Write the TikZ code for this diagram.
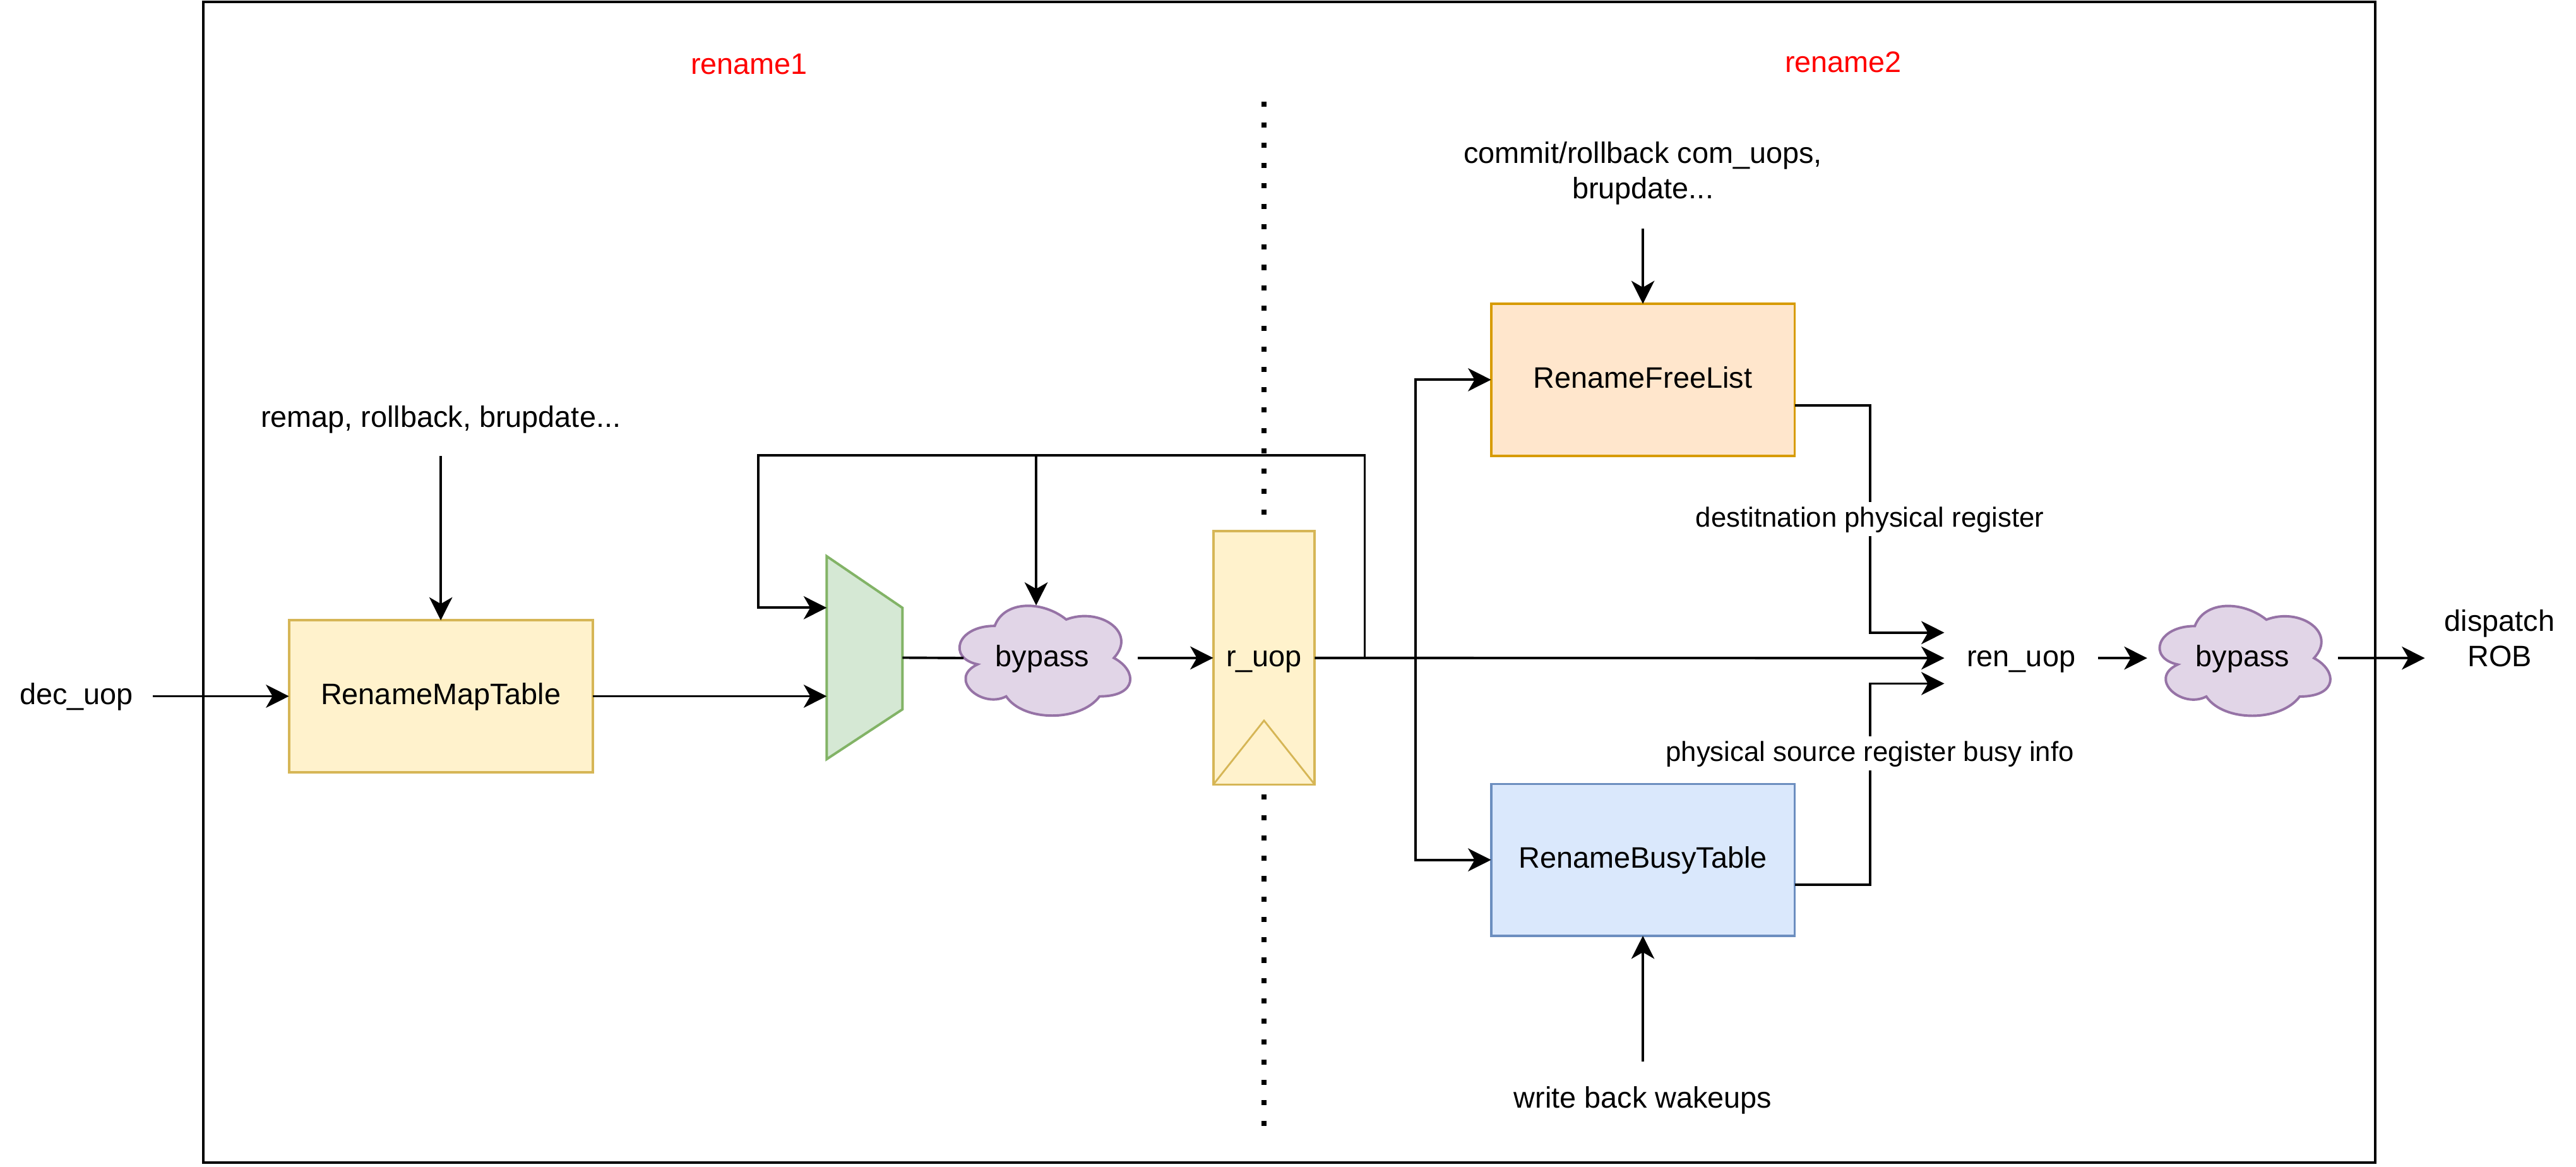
\documentclass[tikz,border=0pt]{standalone}
\usepackage{fontspec}
\setmainfont{Liberation Sans}
\usetikzlibrary{calc}
\usetikzlibrary{positioning}
\usetikzlibrary{arrows.meta}
\definecolor{yelfill}{HTML}{FFF2CC}
\definecolor{yeldraw}{HTML}{D6B656}
\definecolor{orgfill}{HTML}{FFE6CC}
\definecolor{orgdraw}{HTML}{D79B00}
\definecolor{bluefill}{HTML}{DAE8FC}
\definecolor{bluedraw}{HTML}{6C8EBF}
\definecolor{grnfill}{HTML}{D5E8D4}
\definecolor{grndraw}{HTML}{82B366}
\definecolor{purfill}{HTML}{E1D5E7}
\definecolor{purdraw}{HTML}{9673A6}
\providecommand\cloudpath[1]{%
    \path[draw = purdraw, fill = purfill, line width = 1.5pt, x = 116pt, y = -78pt, #1]
        (-0.25,-0.25) .. controls (-0.45,-0.25) and (-0.5,0) .. (-0.34,0.05)
        .. controls (-0.5,0.16) and (-0.32,0.4) .. (-0.19,0.3)
        .. controls (-0.1,0.5) and (0.2,0.5) .. (0.3,0.3)
        .. controls (0.5,0.3) and (0.5,0.1) .. (0.375,0)
        .. controls (0.5,-0.2) and (0.3,-0.4) .. (0.125,-0.3)
        .. controls (0,-0.45) and (-0.2,-0.45) .. (-0.25,-0.25) -- cycle;%
}

\begin{document}
\begin{tikzpicture}[x = 1pt, y = -1pt, on grid,
        line width = 1.5pt,
        font = \fontsize{18}{21.6}\selectfont,
        conn/.style = {draw, -{Stealth[length=14pt, width=14pt, inset=4pt]}},
        txt/.style = {inner sep = 0pt, outer sep = 0pt, align = center,
            text height = 13pt, text depth = 2.8pt},
        lbl/.style = {fill = white, inner xsep = 1pt, inner ysep = 3pt,
            text height = 12.1pt, text depth = 2.6pt,
            font = \fontsize{16.8}{20.2}\selectfont},
        tabbox/.style = {txt, draw, minimum width = 184.8, minimum height = 92.4},
        regbox/.style = {txt, draw = yeldraw, fill = yelfill,
            minimum width = 61.8, minimum height = 154.2},
        bubble/.style = {txt, minimum width = 116, minimum height = 78},
        ]
    \useasboundingbox (0,0) rectangle (1568,710.2);

    \draw[line width = 1.6pt] (123.6,1) rectangle (1445.7,707.6);

    \node (rn1) at (456,40) [txt, text = red] {rename1};
    \node (rn2) at (1122,39) [txt, text = red] {rename2};

    \draw[line width = 3.1pt, dash pattern = on 3.1pt off 9.3pt] (769.4,62) -- (769.4,692);

    % rename1
    \node (maptab) at (268.3,423.7) [tabbox, draw = yeldraw, fill = yelfill] {RenameMapTable};
    \node (decin) at (46.5,423.7) [txt, minimum width = 93] {dec\_uop};
    \node (remapin) [txt, minimum height = 45.6, above = 169pt of maptab] {remap, rollback, brupdate...};

    \node (mux) at (526.25,400.25) [inner sep = 0pt, outer sep = 0pt,
        minimum width = 46.1, minimum height = 123.5] {};
    \draw[draw = grndraw, fill = grnfill] (mux.north west) -- ($(mux.north east)+(0,31.4)$)
        -- ($(mux.south east)+(0,-30.3)$) -- (mux.south west) -- cycle;

    \coordinate (byp1c) at (634.5,400.4);
    \cloudpath{shift = {(byp1c)}}
    \node (byp1) at (byp1c) [bubble] {bypass};
    \node (ruop) [regbox, right = 134.9pt of byp1] {r\_uop};
    \draw[yeldraw, line width = 1.1pt] (ruop.south west) -- ($(ruop.south)+(0,-39)$) -- (ruop.south east);

    % rename2
    \node (freelist) at (1000,231.1) [tabbox, draw = orgdraw, fill = orgfill] {RenameFreeList};
    \node (busytab) [tabbox, draw = bluedraw, fill = bluefill, below = 292.2pt of freelist] {RenameBusyTable};
    \node (commitin) [txt, minimum height = 46.6, above = 115.3pt of freelist] {commit/rollback com\_uops,\\brupdate...};
    \node (wbin) [txt, minimum height = 46, below = 145.9pt of busytab] {write back wakeups};

    \node (renuop) at (1230.25,400.5) [txt, minimum width = 93.5] {ren\_uop};
    \coordinate[right = 134.75pt of renuop] (byp2c);
    \cloudpath{shift = {(byp2c)}}
    \node (byp2) at (byp2c) [bubble] {bypass};
    \node (dispatch) [txt, minimum width = 91, right = 156.5pt of byp2] {dispatch\\ROB};

    \coordinate (fbsplit) at (830.7,400.5);
    \coordinate (fbleft) at (461.6,277.2);
    \coordinate (fbtap) at (630.7,277.2);
    \coordinate (brsplit) at (861.6,400.5);
    \coordinate (destk) at (1138.2,316);
    \coordinate (srck) at (1138.2,458.5);

    \draw[conn] (decin) -- (maptab);
    \draw[conn] (remapin) -- (maptab);
    \draw[conn] (maptab.east) -- (maptab.east -| mux.west);
    \draw[shorten >= -10pt] (mux.east) -- (byp1.west);
    \draw[conn] (byp1) -- (ruop);
    \draw[conn] (ruop) -- (renuop);

    \draw[conn] (fbsplit) |- (fbleft) |- ($(mux.west)+(0,-30.4)$);
    \draw[conn, shorten >= -7pt] (fbtap) -- (fbtap |- byp1.north);

    \draw[conn] (brsplit) |- (freelist);
    \draw[conn] (brsplit) |- (busytab);
    \draw[conn] (commitin) -- (freelist);
    \draw[conn] (wbin) -- (busytab);

    \draw[conn] ($(freelist.east)+(0,15.6)$) -| (destk)
        node (destlbl) [lbl] {destitnation physical register}
        |- ($(renuop.west)+(0,-15.5)$);
    \draw[conn] ($(busytab.east)+(0,15.2)$) -| (srck)
        node (srclbl) [lbl] {physical source register busy info}
        |- ($(renuop.west)+(0,15.5)$);

    \draw[conn] (renuop) -- (byp2);
    \draw[conn] (byp2) -- (dispatch);

\end{tikzpicture}
\end{document}
